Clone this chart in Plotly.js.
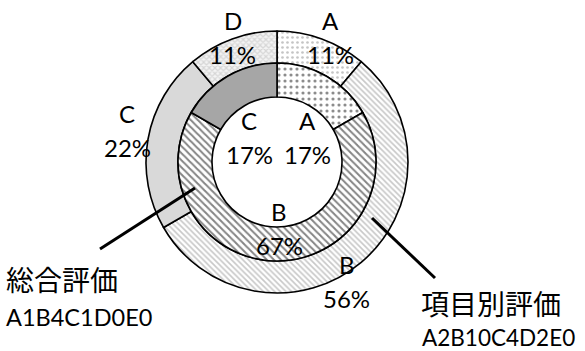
<!DOCTYPE html>
<html>
<head>
<meta charset="utf-8">
<script src="https://cdn.plot.ly/plotly-3.0.1.min.js"></script>
<style>html,body{margin:0;padding:0;background:#fff;}#chart{width:585px;height:351px;}</style>
</head>
<body>
<div id="chart"></div>
<script>
// ---- data ----
const categories = ["A", "B", "C", "D", "E"];
const itemCounts = [2, 10, 4, 2, 0];     // 項目別評価 (outer ring)
const overallCounts = [1, 4, 1, 0, 0];   // 総合評価 (inner ring)
const outerTitle = "項目別評価";
const innerTitle = "総合評価";

// ---- layout / style config ----
const W = 585, H = 351;
const CX = 277, CY = 162;           // pie centre in pixels
const R_OUT = 131, R_MID = 99, R_IN = 65;
const LABEL_FONT = {family: "Lato, 'Open Sans', sans-serif", size: 24, color: "#000"};
const outerStyle = {
  A: {shape: ".", fg: "#c4c4c4", bg: "#ffffff", size: 5, sol: 0.22, color: "#ffffff"},
  B: {shape: "\\", fg: "#c8c8c8", bg: "#ffffff", size: 4, sol: 0.4, color: "#ffffff"},
  C: {shape: "", fg: "#d9d9d9", bg: "#d9d9d9", size: 4, sol: 0.3, color: "#d9d9d9"},
  D: {shape: "x", fg: "#d6d6d6", bg: "#f4f4f4", size: 4, sol: 0.5, color: "#eeeeee"},
  E: {shape: "", fg: "#fff", bg: "#fff", size: 4, sol: 0.3, color: "#ffffff"}
};
const innerStyle = {
  A: {shape: ".", fg: "#8c8c8c", bg: "#ffffff", size: 6, sol: 0.22, color: "#ffffff"},
  B: {shape: "\\", fg: "#858585", bg: "#ffffff", size: 5, sol: 0.4, color: "#ffffff"},
  C: {shape: "", fg: "#a6a6a6", bg: "#a6a6a6", size: 4, sol: 0.3, color: "#a6a6a6"},
  D: {shape: "", fg: "#fff", bg: "#fff", size: 4, sol: 0.3, color: "#ffffff"},
  E: {shape: "", fg: "#fff", bg: "#fff", size: 4, sol: 0.3, color: "#ffffff"}
};
// label placement: radius (px) from centre + pixel nudge, per ring
const outerLabelR = 135, innerLabelR = 45;
const outerNudge = {A: [7, 2], B: [-17, 16], C: [-17, -8], D: [2, 2]};
const innerNudge = {A: [8, 14], B: [2, 21], C: [-5, 14]};
const LINE_GAP = 17;

function px2paper(x, y) { return [x / W, 1 - y / H]; }
function domainFor(r) {
  return {x: [(CX - r) / W, (CX + r) / W], y: [(H - CY - r) / H, (H - CY + r) / H]};
}

function buildTrace(counts, style, rOuter, rHole) {
  const labs = [], vals = [];
  categories.forEach((c, i) => { if (counts[i] > 0) { labs.push(c); vals.push(counts[i]); } });
  return {
    type: "pie", labels: labs, values: vals, sort: false, direction: "clockwise", rotation: 0,
    hole: rHole / rOuter, domain: domainFor(rOuter), textinfo: "none", hoverinfo: "label+percent",
    showlegend: false,
    marker: {
      colors: labs.map(l => style[l].color),
      line: {color: "#000", width: 1.6},
      pattern: {
        shape: labs.map(l => style[l].shape),
        fgcolor: labs.map(l => style[l].fg),
        bgcolor: labs.map(l => style[l].bg),
        size: labs.map(l => style[l].size),
        solidity: labs.map(l => style[l].sol),
        fillmode: "replace"
      }
    }
  };
}

function labelAnnotations(counts, radius, nudge) {
  const total = counts.reduce((a, b) => a + b, 0);
  let cum = 0;
  const anns = [];
  categories.forEach((c, i) => {
    const v = counts[i];
    if (v <= 0) return;
    const mid = (cum + v / 2) / total * 2 * Math.PI;
    cum += v;
    const n = nudge[c] || [0, 0];
    const x = CX + radius * Math.sin(mid) + n[0];
    const y = CY - radius * Math.cos(mid) + n[1];
    const pct = Math.round(v / total * 100) + "%";
    [[c, y - LINE_GAP], [pct, y + LINE_GAP]].forEach(([t, yy]) => {
      const p = px2paper(x, yy);
      anns.push({text: t, x: p[0], y: p[1], xref: "paper", yref: "paper", showarrow: false,
        xanchor: "center", yanchor: "middle", font: LABEL_FONT});
    });
  });
  return anns;
}

function summary(counts) { return categories.map((c, i) => c + counts[i]).join(""); }

const annotations = [
  ...labelAnnotations(itemCounts, outerLabelR, outerNudge),
  ...labelAnnotations(overallCounts, innerLabelR, innerNudge)
];
function textAnn(text, x, y, font) {
  const p = px2paper(x, y);
  return {text, x: p[0], y: p[1], xref: "paper", yref: "paper", showarrow: false,
    xanchor: "left", yanchor: "middle", font, borderpad: 0};
}
const jpFont = {family: "'Noto Sans CJK JP', sans-serif", size: 28, color: "#000"};
annotations.push(textAnn(innerTitle, 5, 279, jpFont));
annotations.push(textAnn(summary(overallCounts), 5, 317,
  {family: "Lato, 'Open Sans', sans-serif", size: 23.5, color: "#000"}));
annotations.push(textAnn(outerTitle, 420, 303, jpFont));
annotations.push(textAnn(summary(itemCounts), 421, 337,
  {family: "Lato, 'Open Sans', sans-serif", size: 22.5, color: "#000"}));

function lineShape(x0, y0, x1, y1) {
  const a = px2paper(x0, y0), b = px2paper(x1, y1);
  return {type: "line", xref: "paper", yref: "paper", x0: a[0], y0: a[1], x1: b[0], y1: b[1],
    line: {color: "#000", width: 3}};
}
const shapes = [lineShape(100, 249, 195, 188), lineShape(372, 218, 435, 278)];

const data = [
  buildTrace(itemCounts, outerStyle, R_OUT, R_MID),
  buildTrace(overallCounts, innerStyle, R_MID, R_IN)
];
const layout = {
  width: W, height: H, margin: {l: 0, r: 0, t: 0, b: 0},
  paper_bgcolor: "#fff", plot_bgcolor: "#fff", showlegend: false,
  annotations, shapes
};
Plotly.newPlot("chart", data, layout, {displayModeBar: false, staticPlot: true});
</script>
</body>
</html>
